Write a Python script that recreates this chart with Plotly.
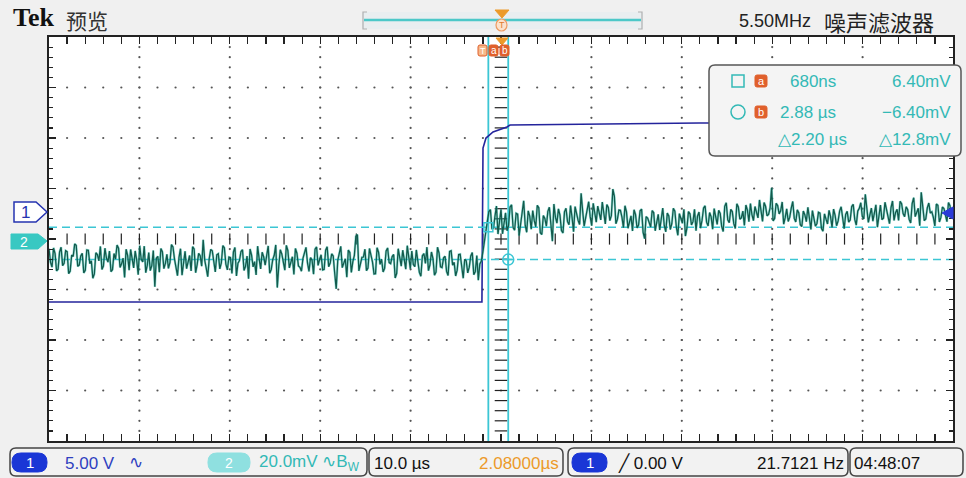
import numpy as np
import plotly.graph_objects as go

# ---------------- figure geometry (pixels) ----------------
W, H = 966, 478
PL, PR, PT, PB = 49, 953, 37, 441

# ---------------- scope settings ----------------
time_per_div_us = 10.0
h_position_us = 2.08
n_div_x = 10
n_div_y = 8
ch1_volts_per_div = 5.0
ch1_offset_div = 0.535
ch2_mv_per_div = 20.0
ch2_offset_div = -0.087

# ---------------- channel 1 (step) ----------------
ch1_time_us = [-47.92, -0.03, 0.09, 0.42, 1.2, 2.74, 3.08, 8.0, 14.0, 24.0, 36.0, 52.08]
ch1_volts = [-8.91, -8.91, 6.33, 7.32, 7.92, 8.41, 8.61, 8.66, 8.78, 8.81, 8.81, 8.81]

# ---------------- channel 2 (noisy, mV): two interleaved sample sets ----------------
ch2_record_start_us = -47.92
ch2_record_length_us = 100.0
ch2_mv_even = [
    -2.1, -9.4, -4.0, -10.2, -1.5, -7.9, -3.3, -11.0, -5.2, -0.8,
    -8.6, -3.9, -10.7, -2.7, -6.9, -12.1, -4.4, -1.2, -9.0, -5.8,
    -3.0, -10.4, -6.2, -1.9, -8.1, -13.5, -4.7, -2.4, -9.7, -6.5,
    -0.9, -7.3, -11.6, -3.6, -8.8, -17.2, -5.1, -2.0, -10.0, -4.3,
    -7.6, -1.4, -9.3, -5.5, -12.6, -3.1, -6.7, -10.9, -2.2, -8.4,
    -4.9, 1.4, -9.8, -6.0, -2.9, -11.3, -4.1, -7.7, -1.7, -10.5,
    -5.6, -3.4, -12.9, -6.8, -2.5, -9.1, -14.0, -4.6, -7.2, -1.1,
    -10.1, -5.3, -3.7, -11.8, -6.4, -0.6, -8.9, -4.2, -10.6, -2.8,
    -7.0, -12.3, -3.9, -9.5, -5.9, -1.6, -11.1, -6.6, -2.3, -8.7,
    -4.5, -10.3, -1.3, -7.8, -5.0, -18.0, -3.2, -9.6, -6.1, -2.6,
    -11.5, -4.8, 3.5, -8.3, -5.4, -10.8, -2.0, -7.4, -12.0, -3.5,
    -6.3, -9.9, -1.8, -8.0, -4.4, -11.9, -6.7, -2.7, -10.2, -5.7,
    -3.0, -9.2, -7.1, -13.0, -4.0, -1.5, -8.5, -6.0, -11.4, -3.8,
    -9.6, -5.1, -12.7, -2.9, -7.5, -10.6, -4.3, -13.8, -6.9, -9.4,
    -3.6, -11.2, -14.6, -7.0,
    1.2, 8.9, 13.4, 6.0, 14.8, 9.7, 3.8, 12.1, 7.0, 15.3,
    5.2, 11.6, 8.3, 16.9, 4.4, 10.8, 13.0, 6.6, 14.1, 3.5,
    9.9, 12.7, 5.7, 15.6, 8.0, 11.2, 4.1, 13.9, 7.4, 10.3,
    14.6, 9.1, 19.8, 6.8, 13.3, 10.6, 15.9, 8.4, 12.0, 16.4,
    7.7, 14.2, 11.0, 18.6, 9.5, 13.1, 6.2, 12.5, 8.8, 4.9,
    11.4, 7.3, 13.6, 1.9, 10.0, 6.5, 12.2, 8.1, 5.3, 14.0,
    4.6, 10.9, 7.8, 12.8, 3.2, 9.4, 13.5, 6.1, 11.7, 8.6,
    5.0, 12.4, 9.2, 14.9, 6.9, 10.5, 13.8, 7.5, 11.9, 4.7,
    16.1, 8.2, 12.6, 5.9, 14.4, 10.1, 7.1, 13.2, 15.8, 9.0,
    12.3, 17.2, 8.7, 14.7, 11.5, 22.0, 9.8, 15.0, 12.9, 7.6,
    13.7, 10.4, 16.6, 8.5, 12.1, 6.7, 11.3, 14.3, 5.5, 10.2,
    7.9, 12.0, 4.8, 9.6, 13.1, 6.3, 11.1, 8.9, 14.5, 5.8,
    12.7, 9.3, 15.5, 7.2, 13.9, 10.7, 19.4, 8.3, 14.0, 11.8,
    6.4, 15.2, 10.0, 13.6, 7.8, 16.8, 12.2, 9.1, 15.7, 10.6,
    13.4, 8.1, 18.1, 11.9, 7.0, 14.6, 9.7, 16.0, 12.5, 6.9,
    15.1, 10.3, 13.8, 8.6, 14.9, 11.2,
]
ch2_mv_odd = [
    -7.5, -1.8, -10.9, -3.4, -8.8, -2.9, -12.0, -4.6, -0.2, -9.1,
    -5.0, -11.7, -2.6, -8.0, -13.8, -3.7, -6.9, -10.3, -1.9, -7.4,
    -11.2, -4.0, -0.7, -9.5, -5.8, -2.3, -10.6, -7.1, -3.0, -12.4,
    -6.3, -1.1, -8.7, -10.8, -2.8, -5.9, -11.4, -3.3, -7.9, -9.9,
    -0.5, -6.1, -12.8, -2.1, -8.4, -10.0, -4.8, -1.3, -11.6, -3.9,
    -9.0, -6.6, -13.2, -2.4, -7.3, -4.5, -10.1, -0.9, -8.2, -5.4,
    -11.9, -1.6, -7.8, -3.2, -10.7, -5.0, -2.2, -9.3, -12.5, -6.0,
    -3.5, -8.6, -1.0, -10.4, -4.7, -17.5, -2.5, -7.0, -0.8, -9.7,
    -5.3, -2.0, -8.9, -11.0, -3.1, -7.7, -5.6, -12.2, -1.4, -6.4,
    -10.5, -2.7, -9.2, -4.1, -11.8, -6.8, -1.2, -8.1, -13.4, -3.6,
    -7.2, 2.8, -10.9, -5.5, -2.3, -9.8, -4.2, -12.1, -1.7, -8.3,
    -11.3, -3.0, -7.6, -5.2, -13.7, -2.1, -9.0, -6.5, -0.9, -10.0,
    -8.4, -2.6, -11.5, -4.9, -7.9, -10.8, -3.4, -12.6, -1.5, -9.3,
    -5.7, -11.1, -3.2, -8.6, -12.9, -4.4, -9.9, -6.3, -11.7, -5.0,
    -12.4, -4.8, -8.1, -3.5,
    4.8, 12.6, 5.9, 10.7, 3.7, 13.5, 8.1, 5.0, 14.4, 6.3,
    11.9, 3.1, 13.8, 7.2, 12.9, 5.6, 9.0, 15.1, 4.2, 11.0,
    6.8, 14.3, 0.9, 10.4, 13.7, 5.1, 12.5, 8.6, 15.0, 4.6,
    11.3, 7.5, 13.0, 10.1, 16.5, 7.0, 12.3, 14.8, 9.3, 11.6,
    15.4, 9.0, 21.5, 7.8, 13.2, 10.4, 14.9, 6.0, 10.9, 13.3,
    6.1, 12.9, 4.4, 10.6, 8.2, 13.0, 5.0, 11.5, 9.6, 7.1,
    12.0, 5.5, 13.9, 6.4, 11.8, 8.0, 2.9, 12.6, 7.3, 13.5,
    10.8, 6.0, 14.0, 8.4, 12.2, 5.6, 9.9, 13.1, 6.6, 14.7,
    9.3, 13.5, 7.8, 15.7, 9.6, 12.8, 15.2, 8.6, 11.4, 14.6,
    10.1, 13.0, 16.2, 10.9, 14.1, 8.9, 15.9, 11.7, 16.4, 10.2,
    8.7, 14.0, 9.9, 13.3, 7.4, 12.8, 8.6, 10.0, 13.0, 6.8,
    12.3, 5.9, 11.7, 7.7, 10.6, 13.6, 7.0, 12.8, 9.2, 11.5,
    8.4, 14.6, 9.5, 12.8, 16.1, 9.7, 13.9, 11.2, 8.8, 15.3,
    11.6, 9.4, 16.3, 10.4, 14.2, 9.1, 13.5, 16.7, 11.8, 14.5,
    9.5, 15.8, 10.6, 13.9, 20.2, 9.0, 14.1, 12.0, 10.3, 15.6,
    8.5, 14.4, 11.1, 16.2, 10.0, 13.2,
]

# ---------------- cursors ----------------
cursor_a_us, cursor_a_mv = 0.68, 6.40
cursor_b_us, cursor_b_mv = 2.88, -6.40

# ---------------- text readouts ----------------
title_brand = "Tek"
title_mode = "预览"
filter_freq = "5.50MHz"
filter_name = "噪声滤波器"
readout_a_time, readout_a_volt = "680ns", "6.40mV"
readout_b_time, readout_b_volt = "2.88 µs", "−6.40mV"
readout_d_time, readout_d_volt = "△2.20 µs", "△12.8mV"
ch1_scale_text = "5.00 V"
ch2_scale_text = "20.0mV ∿B<sub>W</sub>"
timebase_text = "10.0 µs"
hpos_text = "2.08000µs"
trig_level_text = "╱ 0.00 V"
trig_freq_text = "21.7121 Hz"
clock_text = "04:48:07"

# ---------------- colours ----------------
C_CH1 = "#24249c"
C_CH2_DARK = "#135a4c"
C_CH2_LIGHT = "#2ec4b4"
C_CURSOR = "#3cc6d4"
C_TEXT_CY = "#33b9b6"
C_ORANGE = "#ec9a2a"
C_BADGE = "#e0602c"
C_BLUE_PILL = "#1a36d6"

FONT = "Liberation Sans, Arial, sans-serif"
CJK = "Noto Sans CJK SC, sans-serif"


def X(px):
    return (px - PL) / (PR - PL)


def Y(py):
    return (PB - py) / (PB - PT)


def rrect_path(x0, y0, x1, y1, r):
    p = [
        f"M {X(x0 + r):.5f},{Y(y0):.5f}",
        f"L {X(x1 - r):.5f},{Y(y0):.5f}",
        f"Q {X(x1):.5f},{Y(y0):.5f} {X(x1):.5f},{Y(y0 + r):.5f}",
        f"L {X(x1):.5f},{Y(y1 - r):.5f}",
        f"Q {X(x1):.5f},{Y(y1):.5f} {X(x1 - r):.5f},{Y(y1):.5f}",
        f"L {X(x0 + r):.5f},{Y(y1):.5f}",
        f"Q {X(x0):.5f},{Y(y1):.5f} {X(x0):.5f},{Y(y1 - r):.5f}",
        f"L {X(x0):.5f},{Y(y0 + r):.5f}",
        f"Q {X(x0):.5f},{Y(y0):.5f} {X(x0 + r):.5f},{Y(y0):.5f}",
        "Z",
    ]
    return " ".join(p)


def poly_path(pts):
    return "M " + " L ".join(f"{X(a):.5f},{Y(b):.5f}" for a, b in pts) + " Z"


shapes = []
annotations = []


def add_rrect(x0, y0, x1, y1, r, fill, line, lw=1.5):
    shapes.append(dict(type="path", xref="paper", yref="paper", path=rrect_path(x0, y0, x1, y1, r),
                       fillcolor=fill, line=dict(color=line, width=lw), layer="above"))


def add_poly(pts, fill, line, lw=1.2):
    shapes.append(dict(type="path", xref="paper", yref="paper", path=poly_path(pts),
                       fillcolor=fill, line=dict(color=line, width=lw), layer="above"))


def add_text(px, py, text, size, color, anchor="left", family=FONT, bold=False):
    t = f"<b>{text}</b>" if bold else text
    annotations.append(dict(xref="paper", yref="paper", x=X(px), y=Y(py), text=t, showarrow=False,
                            xanchor=anchor, yanchor="middle", font=dict(size=size, color=color, family=family)))


# ---------------- axes ----------------
x0_us = h_position_us - time_per_div_us * n_div_x / 2
x1_us = h_position_us + time_per_div_us * n_div_x / 2
y2_range = [(-n_div_y / 2 - ch1_offset_div) * ch1_volts_per_div, (n_div_y / 2 - ch1_offset_div) * ch1_volts_per_div]
y3_range = [(-n_div_y / 2 - ch2_offset_div) * ch2_mv_per_div, (n_div_y / 2 - ch2_offset_div) * ch2_mv_per_div]

fig = go.Figure()

# grid dots
gx, gy = [], []
minor_x = time_per_div_us / 5
for j in range(-3, 4):
    if j == 0:
        continue
    for k in range(1, n_div_x * 5):
        gx.append(x0_us + k * minor_x)
        gy.append(j)
for m in range(1, n_div_x):
    if m == n_div_x // 2:
        continue
    for k in range(1, n_div_y * 5):
        gx.append(x0_us + m * time_per_div_us)
        gy.append(-n_div_y / 2 + k * 0.2)
fig.add_trace(go.Scatter(x=gx, y=gy, mode="markers", hoverinfo="skip",
                         marker=dict(size=2.2, color="#555555")))

# center cross ticks
cx = [x0_us + k * minor_x for k in range(1, n_div_x * 5)]
fig.add_trace(go.Scatter(x=cx, y=[0] * len(cx), mode="markers", hoverinfo="skip",
                         marker=dict(symbol="line-ns", size=8, line=dict(width=1.2, color="#222222"))))
cy = [-n_div_y / 2 + k * 0.2 for k in range(1, n_div_y * 5)]
fig.add_trace(go.Scatter(x=[h_position_us] * len(cy), y=cy, mode="markers", hoverinfo="skip",
                         marker=dict(symbol="line-ew", size=9, line=dict(width=1.2, color="#222222"))))

# cursor lines (vertical)
for tc in (cursor_a_us, cursor_b_us):
    fig.add_trace(go.Scatter(x=[tc, tc], y=[-4, 4], mode="lines", hoverinfo="skip",
                             line=dict(color=C_CURSOR, width=1.8)))
# cursor lines (horizontal, ch2)
for vc in (cursor_a_mv, cursor_b_mv):
    fig.add_trace(go.Scatter(x=[x0_us, x1_us], y=[vc, vc], mode="lines", hoverinfo="skip", yaxis="y3",
                             line=dict(color=C_CURSOR, width=1.5, dash="8px,5px")))

# channel 1
fig.add_trace(go.Scatter(x=ch1_time_us, y=ch1_volts, mode="lines", yaxis="y2", hoverinfo="skip",
                         line=dict(color=C_CH1, width=1.6)))

# channel 2: interleave the two sample sets in time
dt_e = ch2_record_length_us / (len(ch2_mv_even) - 1)
t_even = ch2_record_start_us + dt_e * np.arange(len(ch2_mv_even))
dt_o = ch2_record_length_us / (len(ch2_mv_odd) - 1)
t_odd = ch2_record_start_us + dt_o * np.arange(len(ch2_mv_odd)) + dt_o / 2
ch2_t = np.concatenate([t_even, t_odd])
ch2_v = np.concatenate([np.array(ch2_mv_even), np.array(ch2_mv_odd)])
order = np.argsort(ch2_t, kind="stable")
ch2_t = ch2_t[order]
ch2_v = ch2_v[order]
keep = ch2_t <= x1_us
ch2_t, ch2_v = ch2_t[keep], ch2_v[keep]

fig.add_trace(go.Scatter(x=ch2_t, y=ch2_v, mode="lines", yaxis="y3", hoverinfo="skip",
                         line=dict(color=C_CH2_LIGHT, width=2.4), opacity=0.5))
fig.add_trace(go.Scatter(x=ch2_t, y=ch2_v, mode="lines", yaxis="y3", hoverinfo="skip",
                         line=dict(color=C_CH2_DARK, width=1.3)))

# cursor intersection markers
fig.add_trace(go.Scatter(x=[cursor_a_us], y=[cursor_a_mv], mode="markers", yaxis="y3", hoverinfo="skip",
                         marker=dict(symbol="square-open", size=9, color=C_CURSOR, line=dict(width=1.5))))
fig.add_trace(go.Scatter(x=[cursor_b_us], y=[cursor_b_mv], mode="markers", yaxis="y3", hoverinfo="skip",
                         marker=dict(symbol="circle-cross-open", size=11, color=C_CURSOR, line=dict(width=1.5))))

axis_common = dict(showgrid=False, zeroline=False, showticklabels=False, showline=True,
                   linecolor="#222222", linewidth=2, mirror="allticks", ticks="inside",
                   tickcolor="#222222", ticklen=7, tickwidth=1.2)
fig.update_layout(
    xaxis=dict(range=[x0_us, x1_us], tick0=h_position_us, dtick=time_per_div_us,
               minor=dict(ticks="inside", dtick=minor_x, tick0=h_position_us, ticklen=4,
                          tickcolor="#222222", tickwidth=1.2),
               **axis_common),
    yaxis=dict(range=[-n_div_y / 2, n_div_y / 2], tick0=0, dtick=1,
               minor=dict(ticks="inside", dtick=0.2, tick0=0, ticklen=4, tickcolor="#222222", tickwidth=1.2),
               **axis_common),
    yaxis2=dict(range=y2_range, overlaying="y", visible=False),
    yaxis3=dict(range=y3_range, overlaying="y", visible=False),
)

# ---------------- decorations ----------------
add_text(11, 18, title_brand, 26, "#111111", family="Liberation Serif, DejaVu Serif, serif", bold=True)
add_text(64, 20, title_mode, 21, "#333333", family=CJK)
add_text(737, 21, filter_freq, 18, "#222222")
add_text(822, 21, filter_name, 22, "#222222", family=CJK)

# top record bar
shapes.append(dict(type="rect", xref="paper", yref="paper", x0=X(362), x1=X(643), y0=Y(29), y1=Y(12),
                   fillcolor="#e9eef0", line=dict(width=0), layer="above"))
shapes.append(dict(type="line", xref="paper", yref="paper", x0=X(364), x1=X(641), y0=Y(20), y1=Y(20),
                   line=dict(color="#4cc8c8", width=2.5), layer="above"))
for bx, d in ((363, 4), (642, -4)):
    shapes.append(dict(type="path", xref="paper", yref="paper",
                       path=f"M {X(bx + d):.5f},{Y(12):.5f} L {X(bx):.5f},{Y(12):.5f} L {X(bx):.5f},{Y(29):.5f} L {X(bx + d):.5f},{Y(29):.5f}",
                       line=dict(color="#b0b0b0", width=1.2), layer="above"))
add_poly([(495, 10), (509, 10), (502, 18)], C_ORANGE, C_ORANGE, 1)
shapes.append(dict(type="circle", xref="paper", yref="paper", x0=X(496), x1=X(507), y0=Y(31), y1=Y(19),
                   fillcolor="#fbe2cc", line=dict(color="#ee9a60", width=1.2), layer="above"))
add_text(501.5, 25, "T", 9, "#e07a30", anchor="center")

# inside top: trigger position marker and cursor badges
add_poly([(496, 38), (508, 38), (502, 45)], C_ORANGE, C_ORANGE, 1)
add_rrect(478, 45, 487, 56, 2, "#f6b98a", C_BADGE, 1)
add_text(482.5, 50.5, "T", 9, "#ffffff", anchor="center")
add_rrect(489, 45, 498, 56, 2, C_BADGE, C_BADGE, 1)
add_text(493.5, 50, "a", 10, "#ffffff", anchor="center")
add_rrect(500, 45, 509, 56, 2, C_BADGE, C_BADGE, 1)
add_text(504.5, 50, "b", 10, "#ffffff", anchor="center")

# channel ground markers (left)
add_poly([(14, 202), (36, 202), (47, 212), (36, 222), (14, 222)], "#ffffff", "#2533b0", 1.5)
add_text(25, 212, "1", 17, "#2533b0", anchor="center")
add_poly([(11, 234), (38, 234), (47, 241), (38, 249), (11, 249)], "#38c8c2", "#38c8c2", 1)
add_text(24, 241.5, "2", 14, "#ffffff", anchor="center")

# trigger level arrow (right)
add_poly([(953, 207), (953, 219), (942, 213)], "#2a3ad8", "#2a3ad8", 1)

# cursor readout box
add_rrect(709, 65, 961, 156, 6, "#f4f4f4", "#555555", 1.5)
shapes.append(dict(type="rect", xref="paper", yref="paper", x0=X(732), x1=X(744), y0=Y(87), y1=Y(75),
                   fillcolor="rgba(0,0,0,0)", line=dict(color=C_TEXT_CY, width=1.5), layer="above"))
shapes.append(dict(type="circle", xref="paper", yref="paper", x0=X(731), x1=X(745), y0=Y(119), y1=Y(105),
                   fillcolor="rgba(0,0,0,0)", line=dict(color=C_TEXT_CY, width=1.5), layer="above"))
add_rrect(755, 75, 767, 87, 2, C_BADGE, C_BADGE, 1)
add_text(761, 80.5, "a", 11, "#ffffff", anchor="center")
add_rrect(755, 106, 767, 118, 2, C_BADGE, C_BADGE, 1)
add_text(761, 111.5, "b", 11, "#ffffff", anchor="center")
add_text(788, 81, readout_a_time, 17, C_TEXT_CY)
add_text(953, 81, readout_a_volt, 17, C_TEXT_CY, anchor="right")
add_text(778, 112, readout_b_time, 17, C_TEXT_CY)
add_text(953, 112, readout_b_volt, 17, C_TEXT_CY, anchor="right")
add_text(776, 139, readout_d_time, 17, C_TEXT_CY)
add_text(953, 139, readout_d_volt, 17, C_TEXT_CY, anchor="right")

# bottom status bar
add_rrect(10, 448, 367, 476, 6, "#f2f2f2", "#444444", 1.5)
add_rrect(369, 448, 563, 476, 6, "#f2f2f2", "#444444", 1.5)
add_rrect(568, 448, 848, 476, 6, "#f2f2f2", "#444444", 1.5)
add_rrect(850, 448, 963, 476, 6, "#f2f2f2", "#444444", 1.5)

add_rrect(12, 453, 47, 472, 9, C_BLUE_PILL, C_BLUE_PILL, 1)
add_text(29.5, 462.5, "1", 15, "#ffffff", anchor="center")
add_text(63, 463, ch1_scale_text, 17, "#2f3fc0")
add_text(127, 462, "∿", 17, "#2f3fc0", family="DejaVu Sans, sans-serif")
add_rrect(208, 453, 250, 472, 9, "#8fe0e0", "#8fe0e0", 1)
add_text(229, 462.5, "2", 14, "#ffffff", anchor="center")
add_text(362, 463, ch2_scale_text, 17, C_TEXT_CY, anchor="right")
add_text(372, 463, timebase_text, 17, "#111111")
add_text(561, 463, hpos_text, 17, C_ORANGE, anchor="right")
add_rrect(572, 453, 607, 472, 9, C_BLUE_PILL, C_BLUE_PILL, 1)
add_text(589.5, 462.5, "1", 15, "#ffffff", anchor="center")
add_text(616, 463, trig_level_text, 17, "#111111")
add_text(846, 463, trig_freq_text, 17, "#111111", anchor="right")
add_text(852, 463, clock_text, 17, "#111111")

fig.update_layout(
    width=W, height=H,
    margin=dict(l=PL, r=W - PR, t=PT, b=H - PB, pad=0),
    paper_bgcolor="#f0f0f0", plot_bgcolor="#ffffff",
    showlegend=False, hovermode=False,
    shapes=shapes, annotations=annotations,
)

fig.write_html("out.html", config={"displayModeBar": False, "staticPlot": True},
               post_script="document.body.style.margin='0';document.body.style.padding='0';"
                           "document.body.style.overflow='hidden';")
